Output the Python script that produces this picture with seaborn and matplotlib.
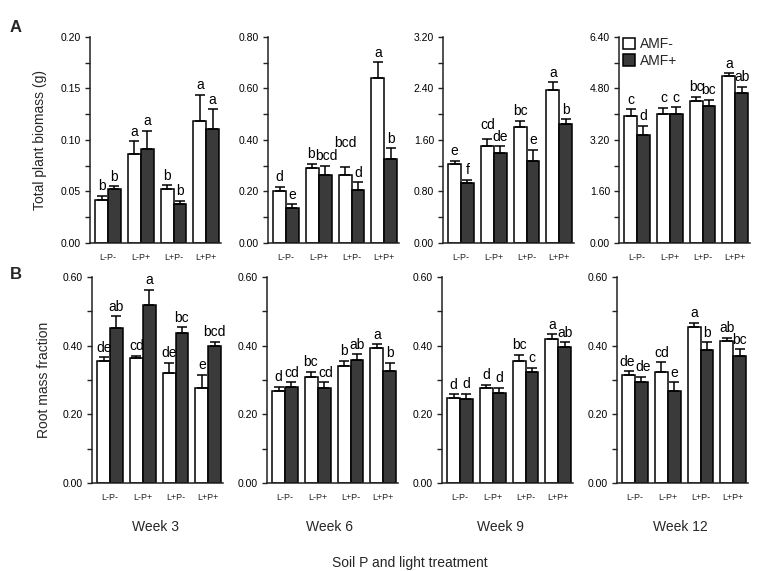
import numpy as np
import pandas as pd
import matplotlib
matplotlib.use("Agg")
import matplotlib.pyplot as plt
import seaborn as sns
from matplotlib.ticker import MultipleLocator, FormatStrFormatter
from matplotlib.patches import Patch

# ---------------- data ----------------
weeks = ["Week 3", "Week 6", "Week 9", "Week 12"]
treatments = ["L-P-", "L-P+", "L+P-", "L+P+"]
amf_levels = ["AMF-", "AMF+"]

# Total plant biomass (g), one row per week
bio_minus = [[0.042, 0.086, 0.052, 0.118],
             [0.200, 0.290, 0.265, 0.640],
             [1.22, 1.50, 1.80, 2.38],
             [3.96, 4.00, 4.40, 5.20]]
bio_minus_err = [[0.004, 0.013, 0.004, 0.026],
                 [0.018, 0.018, 0.030, 0.062],
                 [0.06, 0.12, 0.10, 0.12],
                 [0.20, 0.20, 0.15, 0.08]]
bio_plus = [[0.052, 0.091, 0.038, 0.111],
            [0.135, 0.265, 0.205, 0.325],
            [0.93, 1.40, 1.27, 1.85],
            [3.35, 4.00, 4.25, 4.65]]
bio_plus_err = [[0.003, 0.018, 0.003, 0.019],
                [0.015, 0.035, 0.030, 0.042],
                [0.05, 0.10, 0.18, 0.07],
                [0.30, 0.22, 0.20, 0.20]]
bio_minus_let = [["b", "a", "b", "a"], ["d", "b", "bcd", "a"],
                 ["e", "cd", "bc", "a"], ["c", "c", "bc", "a"]]
bio_plus_let = [["b", "a", "b", "a"], ["e", "bcd", "d", "b"],
                ["f", "de", "e", "b"], ["d", "c", "bc", "ab"]]
bio_ymax = [0.20, 0.80, 3.20, 6.40]

# Root mass fraction
rmf_minus = [[0.354, 0.363, 0.320, 0.276],
             [0.268, 0.310, 0.342, 0.392],
             [0.247, 0.276, 0.356, 0.420],
             [0.316, 0.323, 0.455, 0.413]]
rmf_minus_err = [[0.013, 0.008, 0.030, 0.040],
                 [0.013, 0.014, 0.014, 0.012],
                 [0.012, 0.010, 0.018, 0.014],
                 [0.010, 0.028, 0.012, 0.010]]
rmf_plus = [[0.452, 0.518, 0.436, 0.400],
            [0.281, 0.276, 0.357, 0.325],
            [0.245, 0.262, 0.323, 0.397],
            [0.295, 0.268, 0.388, 0.370]]
rmf_plus_err = [[0.033, 0.045, 0.017, 0.012],
                [0.013, 0.018, 0.018, 0.025],
                [0.015, 0.015, 0.013, 0.013],
                [0.015, 0.025, 0.022, 0.020]]
rmf_minus_let = [["de", "cd", "de", "e"], ["d", "bc", "b", "a"],
                 ["d", "d", "bc", "a"], ["de", "cd", "a", "ab"]]
rmf_plus_let = [["ab", "a", "bc", "bcd"], ["cd", "cd", "ab", "b"],
                ["d", "d", "c", "ab"], ["de", "e", "b", "bc"]]
rmf_ymax = [0.60, 0.60, 0.60, 0.60]

# ---------------- style ----------------
sns.set_theme(style="ticks")
plt.rcParams['font.family'] = ['Liberation Sans', 'DejaVu Sans']
colors = {"AMF-": "white", "AMF+": "#3a3a3a"}
# extra vertical lift (fraction of y-range) for crowded letter labels:
# key = (row, column, series, group)
letter_lift = {(0, 1, 0, 2): 0.07, (0, 2, 0, 1): 0.02}
letter_dx = {(0, 1, 0, 1): -0.03, (0, 1, 1, 1): 0.05, (1, 3, 0, 0): -0.06,
             (1, 3, 1, 0): 0.06, (1, 1, 0, 1): -0.03, (1, 1, 1, 1): 0.05}

W, H = 767, 571
fig = plt.figure(figsize=(W / 100, H / 100), dpi=100)


def px_axes(left, top, width, height):
    return fig.add_axes([left / W, 1 - (top + height) / H, width / W, height / H])


lefts = [[90, 268, 443, 619], [92, 267, 442, 617]]
tops = [37, 277]
ax_w, ax_h = 131, 206

rows = [
    (bio_minus, bio_minus_err, bio_minus_let, bio_plus, bio_plus_err, bio_plus_let, bio_ymax),
    (rmf_minus, rmf_minus_err, rmf_minus_let, rmf_plus, rmf_plus_err, rmf_plus_let, rmf_ymax),
]

for r, (m, me, ml, p, pe, pl, ymaxs) in enumerate(rows):
    for c in range(4):
        ax = px_axes(lefts[r][c], tops[r], ax_w, ax_h)
        df = pd.DataFrame({
            "treat": treatments * 2,
            "amf": [amf_levels[0]] * 4 + [amf_levels[1]] * 4,
            "val": m[c] + p[c],
        })
        sns.barplot(data=df, x="treat", y="val", hue="amf", order=treatments,
                    hue_order=amf_levels, palette=colors, saturation=1,
                    edgecolor="black", linewidth=1.1, width=0.78,
                    errorbar=None, legend=False, ax=ax)
        ymax = ymaxs[c]
        series = [(m[c], me[c], ml[c]), (p[c], pe[c], pl[c])]
        for s, (cont, (vals, errs, lets)) in enumerate(zip(ax.containers, series)):
            xs = [b.get_x() + b.get_width() / 2 for b in cont]
            ax.errorbar(xs, vals, yerr=[np.zeros(len(vals)), errs], fmt="none",
                        ecolor="black", elinewidth=1.1, capsize=3.5, capthick=1.1,
                        zorder=3)
            for i, (x, v, e, l) in enumerate(zip(xs, vals, errs, lets)):
                lift = letter_lift.get((r, c, s, i), 0.0)
                dx = letter_dx.get((r, c, s, i), 0.0)
                ax.text(x + dx, v + e + ymax * (0.012 + lift), l, ha="center",
                        va="bottom", fontsize=10, color="black")
        ax.set_xlim(-0.55, 3.45)
        ax.set_ylim(0, ymax)
        ax.yaxis.set_major_locator(MultipleLocator(ymax / 4 if r == 0 else 0.2))
        ax.yaxis.set_minor_locator(MultipleLocator(ymax / 8 if r == 0 else 0.1))
        ax.yaxis.set_major_formatter(FormatStrFormatter("%.2f"))
        ax.tick_params(axis="y", which="both", direction="out", length=3.5,
                       width=1, colors="#222222", labelsize=7.5, pad=3,
                       labelcolor="black")
        ax.tick_params(axis="x", length=0, labelsize=6.5, pad=7, labelcolor="#222222")
        for sp in ["top", "right"]:
            ax.spines[sp].set_visible(False)
        for sp in ["left", "bottom"]:
            ax.spines[sp].set_linewidth(1.1)
            ax.spines[sp].set_color("#222222")
        ax.set_xlabel("")
        ax.set_ylabel("")
        if r == 0 and c == 3:
            handles = [Patch(facecolor=colors[a], edgecolor="black", linewidth=1.1)
                       for a in amf_levels]
            ax.legend(handles, amf_levels, loc="upper left", frameon=False,
                      fontsize=10, handlelength=0.85, handleheight=0.85,
                      handletextpad=0.35, labelspacing=0.2,
                      borderaxespad=0.0, borderpad=0.0,
                      bbox_to_anchor=(0.03, 1.0))

# labels
fig.text(40 / W, 1 - 140 / H, "Total plant biomass (g)", rotation=90,
         ha="center", va="center", fontsize=10)
fig.text(44 / W, 1 - 380 / H, "Root mass fraction", rotation=90,
         ha="center", va="center", fontsize=10)
fig.text(16 / W, 1 - 27 / H, "A", fontsize=12, fontweight="bold", ha="center", va="center")
fig.text(16 / W, 1 - 275 / H, "B", fontsize=12, fontweight="bold", ha="center", va="center")
for x, wk in zip([155, 330, 500, 680], weeks):
    fig.text(x / W, 1 - 527 / H, wk, ha="center", va="center", fontsize=10)
fig.text(410 / W, 1 - 563 / H, "Soil P and light treatment", ha="center",
         va="center", fontsize=10)

fig.savefig("out.png", dpi=100, facecolor="white")
